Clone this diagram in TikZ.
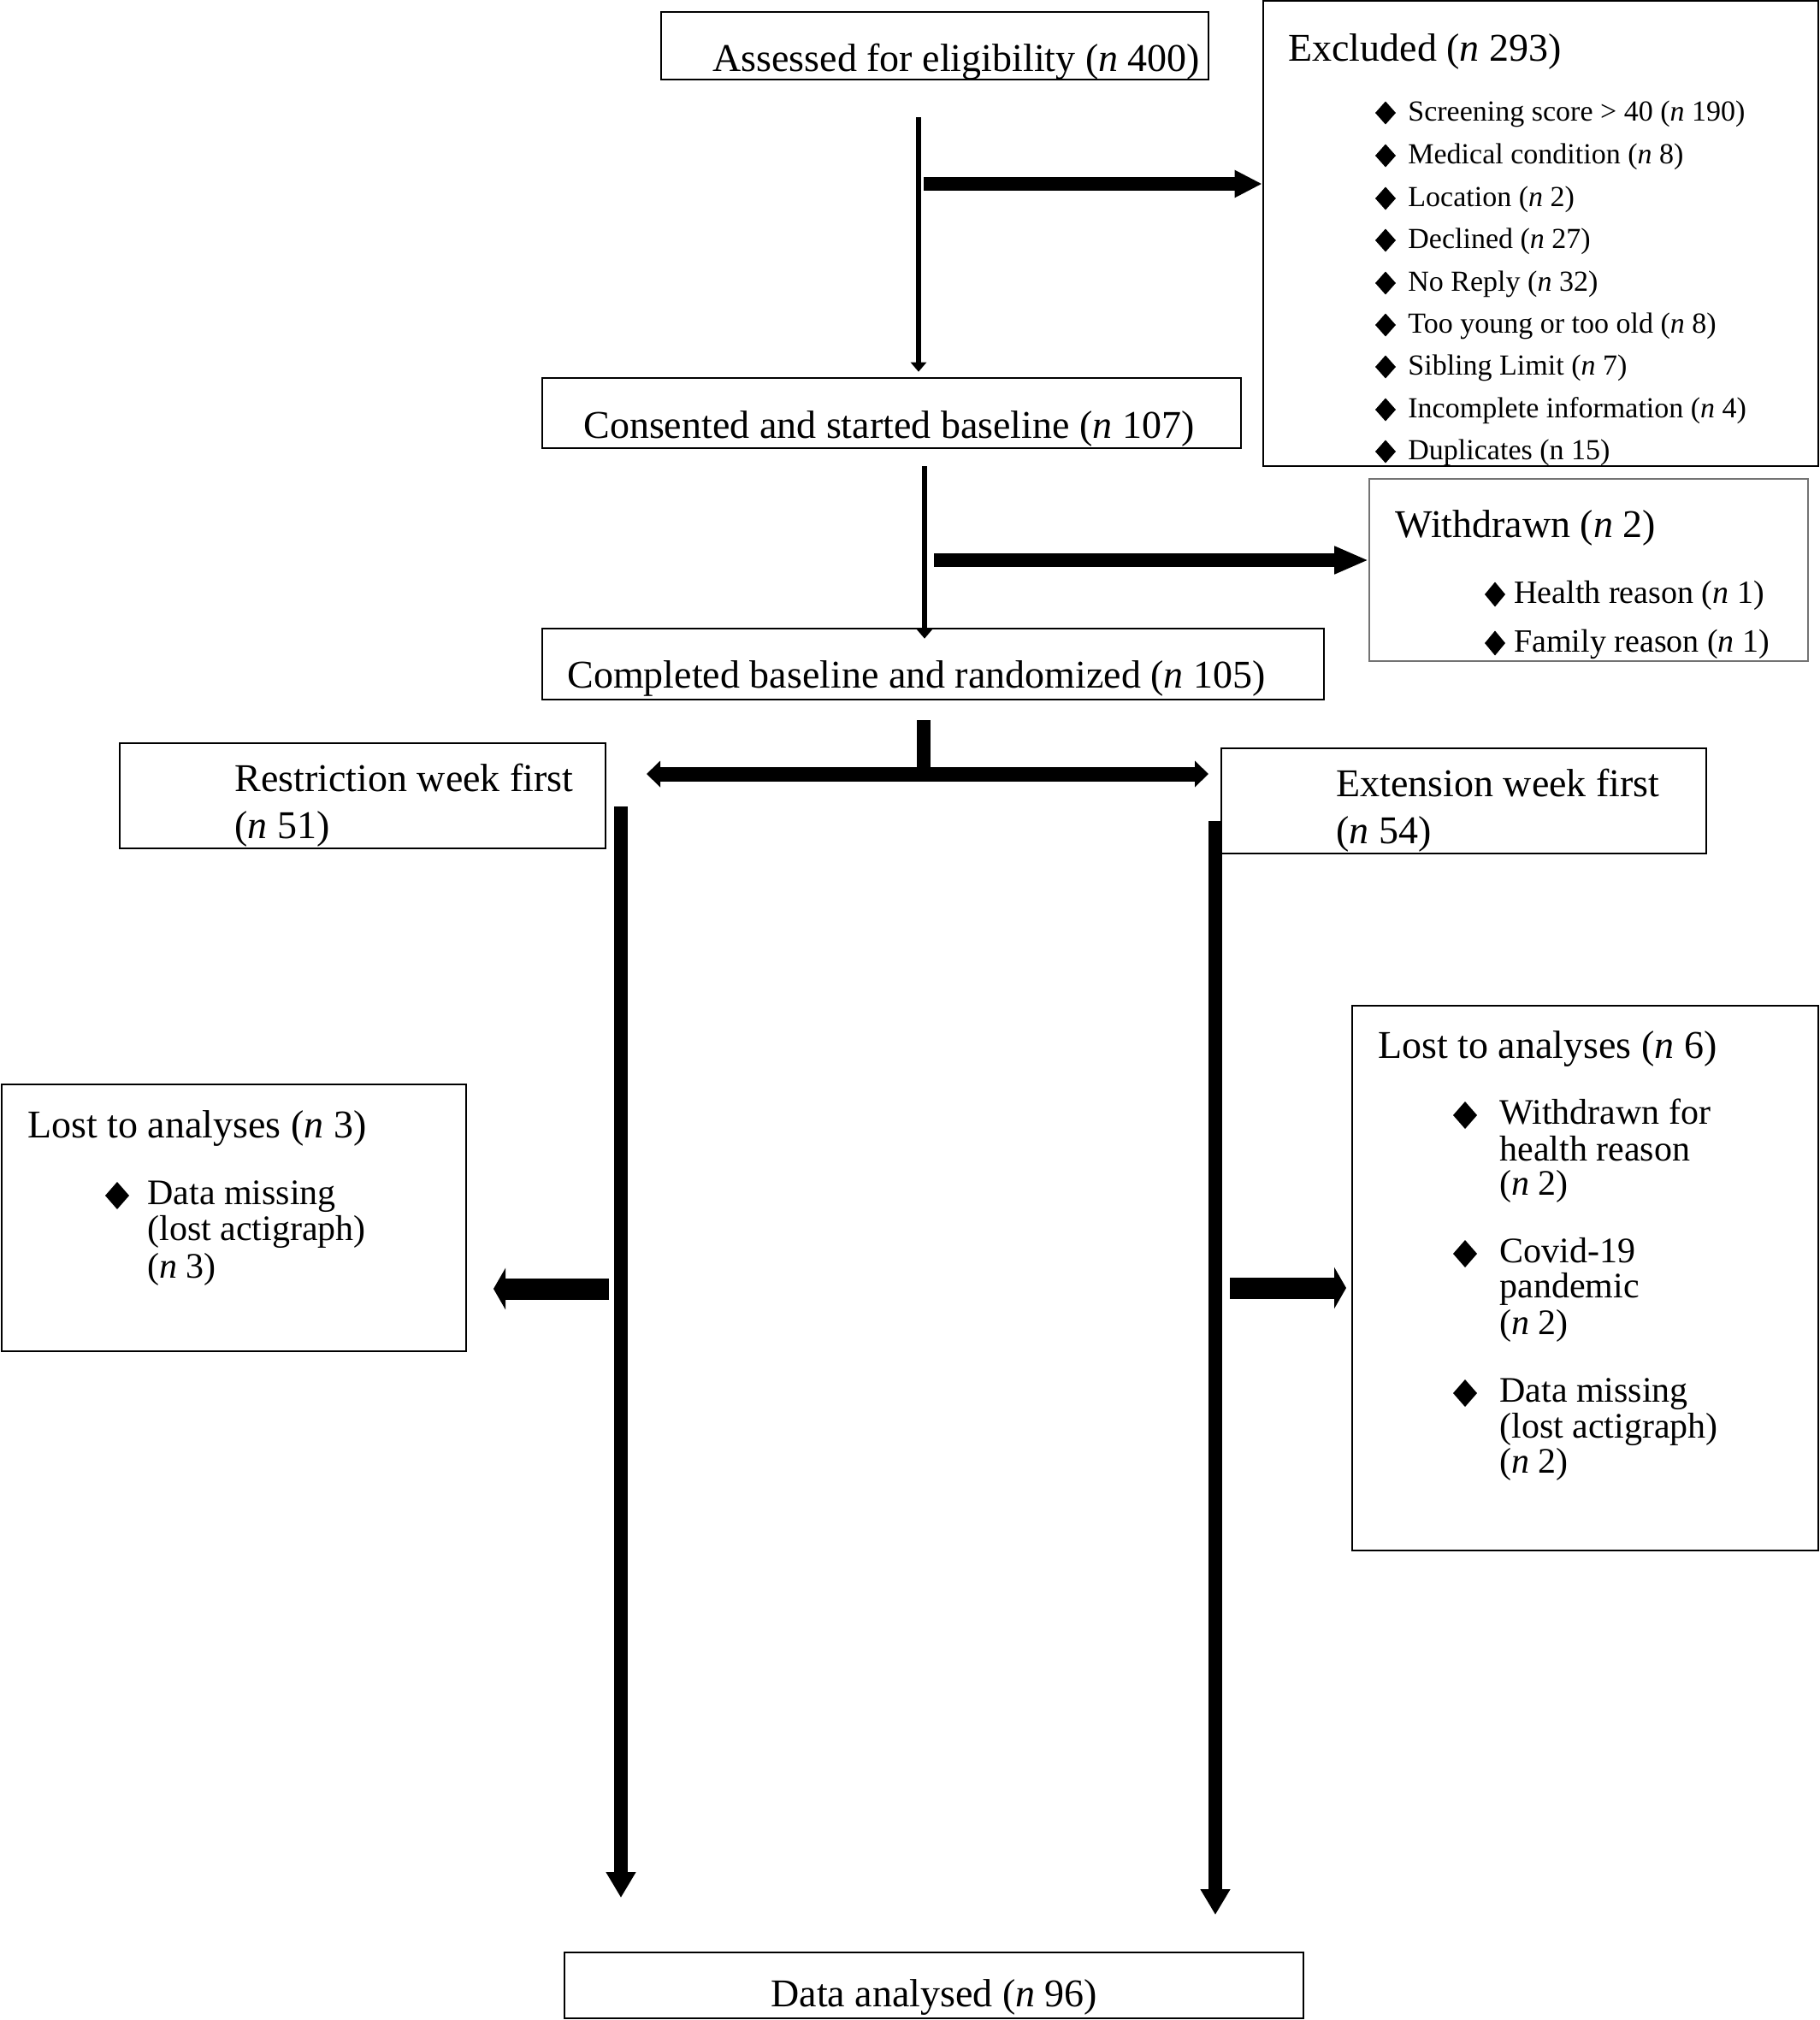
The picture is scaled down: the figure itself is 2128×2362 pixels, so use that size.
\documentclass[tikz,border=0pt]{standalone}
\usepackage{fontspec}
\setmainfont{Liberation Serif}
\usetikzlibrary{arrows.meta,fit}
\newcommand\dmd[4]{\fill (#1-#3/2,#2) -- (#1,#2-#4/2) -- (#1+#3/2,#2) -- (#1,#2+#4/2) -- cycle;}
\begin{document}
\begin{tikzpicture}[x=0.5pt,y=-0.5pt,
  box/.style={draw, line width=1.3pt, inner sep=0pt},
  gbox/.style={draw=black!55, line width=0.8pt, inner sep=0pt},
  lbl/.style={anchor=base west, inner sep=0pt, font=\fontsize{23}{27}\selectfont},
  exi/.style={anchor=base west, inner sep=0pt, font=\fontsize{17}{20}\selectfont},
  wdi/.style={anchor=base west, inner sep=0pt, font=\fontsize{19}{22}\selectfont},
  lsi/.style={anchor=base west, inner sep=0pt, font=\fontsize{21}{21}\selectfont},
  thinarrow/.style={line width=3.3pt, -{Triangle[length=5.5pt,width=9pt]}},
  fatarrow/.style={line width=8pt, -{Triangle[length=16pt,width=15pt]}},
  longarrow/.style={line width=8pt, -{Triangle[length=15pt,width=16.5pt]}},
  dblarrow/.style={line width=8.5pt, {Triangle[length=8pt,width=15pt]}-{Triangle[length=8pt,width=15pt]}},
  sidearrow/.style={line width=12.5pt, -{Triangle[length=7pt,width=24pt]}},
]
\useasboundingbox (0,0) rectangle (2128,2362);
\fill[white] (0,0) rectangle (2128,2362);

% boxes
\node[box, fit={(773,14) (1413,93)}] (assess) {};
\node[box, fit={(1477,1) (2126,545)}] (excl) {};
\node[box, fit={(634,442) (1451,524)}] (cons) {};
\node[gbox, fit={(1601,560) (2114,773)}] (withd) {};
\node[box, fit={(634,735) (1548,818)}] (compl) {};
\node[box, fit={(140,869) (708,992)}] (restr) {};
\node[box, fit={(1428,875) (1995,998)}] (ext) {};
\node[box, fit={(2,1268) (545,1580)}] (lostL) {};
\node[box, fit={(1581,1176) (2126,1813)}] (lostR) {};
\node[box, fit={(660,2283) (1524,2360)}] (data) {};

% texts
\node[lbl] (tassess) at (833,83) {Assessed for eligibility (\textit{n} 400)};
\node[lbl] (texcl) at (1506,71) {Excluded (\textit{n} 293)};
\node[exi] (e1) at (1646,141) {Screening score > 40 (\textit{n} 190)};
\node[exi] (e2) at (1646,191) {Medical condition (\textit{n} 8)};
\node[exi] (e3) at (1646,241) {Location (\textit{n} 2)};
\node[exi] (e4) at (1646,290) {Declined (\textit{n} 27)};
\node[exi] (e5) at (1646,340) {No Reply (\textit{n} 32)};
\node[exi] (e6) at (1646,389) {Too young or too old (\textit{n} 8)};
\node[exi] (e7) at (1646,438) {Sibling Limit (\textit{n} 7)};
\node[exi] (e8) at (1646,488) {Incomplete information (\textit{n} 4)};
\node[exi] (e9) at (1646,537) {Duplicates (n 15)};
\foreach \yy in {141,191,241,290,340,389,438,488,537} {\dmd{1620}{\yy-9}{24}{27}}

\node[lbl] (tcons) at (682,512) {Consented and started baseline (\textit{n} 107)};
\node[lbl] (twithd) at (1631,628) {Withdrawn (\textit{n} 2)};
\node[wdi] (w1) at (1770,705) {Health reason (\textit{n} 1)};
\node[wdi] (w2) at (1770,762) {Family reason (\textit{n} 1)};
\foreach \yy in {705,762} {\dmd{1748}{\yy-10}{24}{29}}

\node[lbl] (tcompl) at (663,804) {Completed baseline and randomized (\textit{n} 105)};
\node[lbl] (trestr1) at (274,925) {Restriction week first};
\node[lbl] (trestr2) at (274,980) {(\textit{n} 51)};
\node[lbl] (text1) at (1562,931) {Extension week first};
\node[lbl] (text2) at (1562,986) {(\textit{n} 54)};

\node[lbl] (tlostL) at (32,1330) {Lost to analyses (\textit{n} 3)};
\node[lsi] (l1) at (172,1408) {Data missing};
\node[lsi] (l2) at (172,1450) {(lost actigraph)};
\node[lsi] (l3) at (172,1494) {(\textit{n} 3)};
\dmd{137}{1398}{28}{32}

\node[lbl] (tlostR) at (1611,1237) {Lost to analyses (\textit{n} 6)};
\node[lsi] (r1) at (1753,1314) {Withdrawn for};
\node[lsi] (r2) at (1753,1357) {health reason};
\node[lsi] (r3) at (1753,1397) {(\textit{n} 2)};
\node[lsi] (r4) at (1753,1476) {Covid-19};
\node[lsi] (r5) at (1753,1517) {pandemic};
\node[lsi] (r6) at (1753,1560) {(\textit{n} 2)};
\node[lsi] (r7) at (1753,1639) {Data missing};
\node[lsi] (r8) at (1753,1681) {(lost actigraph)};
\node[lsi] (r9) at (1753,1722) {(\textit{n} 2)};
\foreach \yy in {1314,1476,1639} {\dmd{1713}{\yy-10}{28}{32}}

\node[lbl] (tdata) at (901,2346) {Data analysed (\textit{n} 96)};

% connectors
\coordinate (c1a) at (1074,137);
\coordinate (c1b) at (1080,215);
\coordinate (c2a) at (1081,545);
\coordinate (c2b) at (1092,655);
\coordinate (s1) at (1080,842);
\coordinate (s2) at (1080,905);
\coordinate (dl) at (756,905);
\coordinate (dr) at (1413,905);
\coordinate (v1a) at (726,943);
\coordinate (v1b) at (726,2219);
\coordinate (v2a) at (1421,960);
\coordinate (v2b) at (1421,2239);
\coordinate (h1a) at (712,1507);
\coordinate (h1b) at (577,1507);
\coordinate (h2a) at (1438,1506);
\coordinate (h2b) at (1574,1506);

\draw[thinarrow] (c1a) -- ([yshift=3pt]c1a |- cons.north);
\draw[fatarrow] (c1b) -- (c1b -| excl.west);
\draw[thinarrow] (c2a) -- ([yshift=-6.5pt]c2a |- compl.north);
\draw[fatarrow, -{Triangle[length=20pt,width=15pt]}] (c2b) -- (c2b -| withd.west);
\draw[line width=8pt] (s1) -- (s2);
\draw[dblarrow] (dl) -- (dr);
\draw[longarrow] (v1a) -- (v1b);
\draw[longarrow] (v2a) -- (v2b);
\draw[sidearrow] (h1a) -- (h1b);
\draw[sidearrow] (h2a) -- (h2b);
\end{tikzpicture}
\end{document}
